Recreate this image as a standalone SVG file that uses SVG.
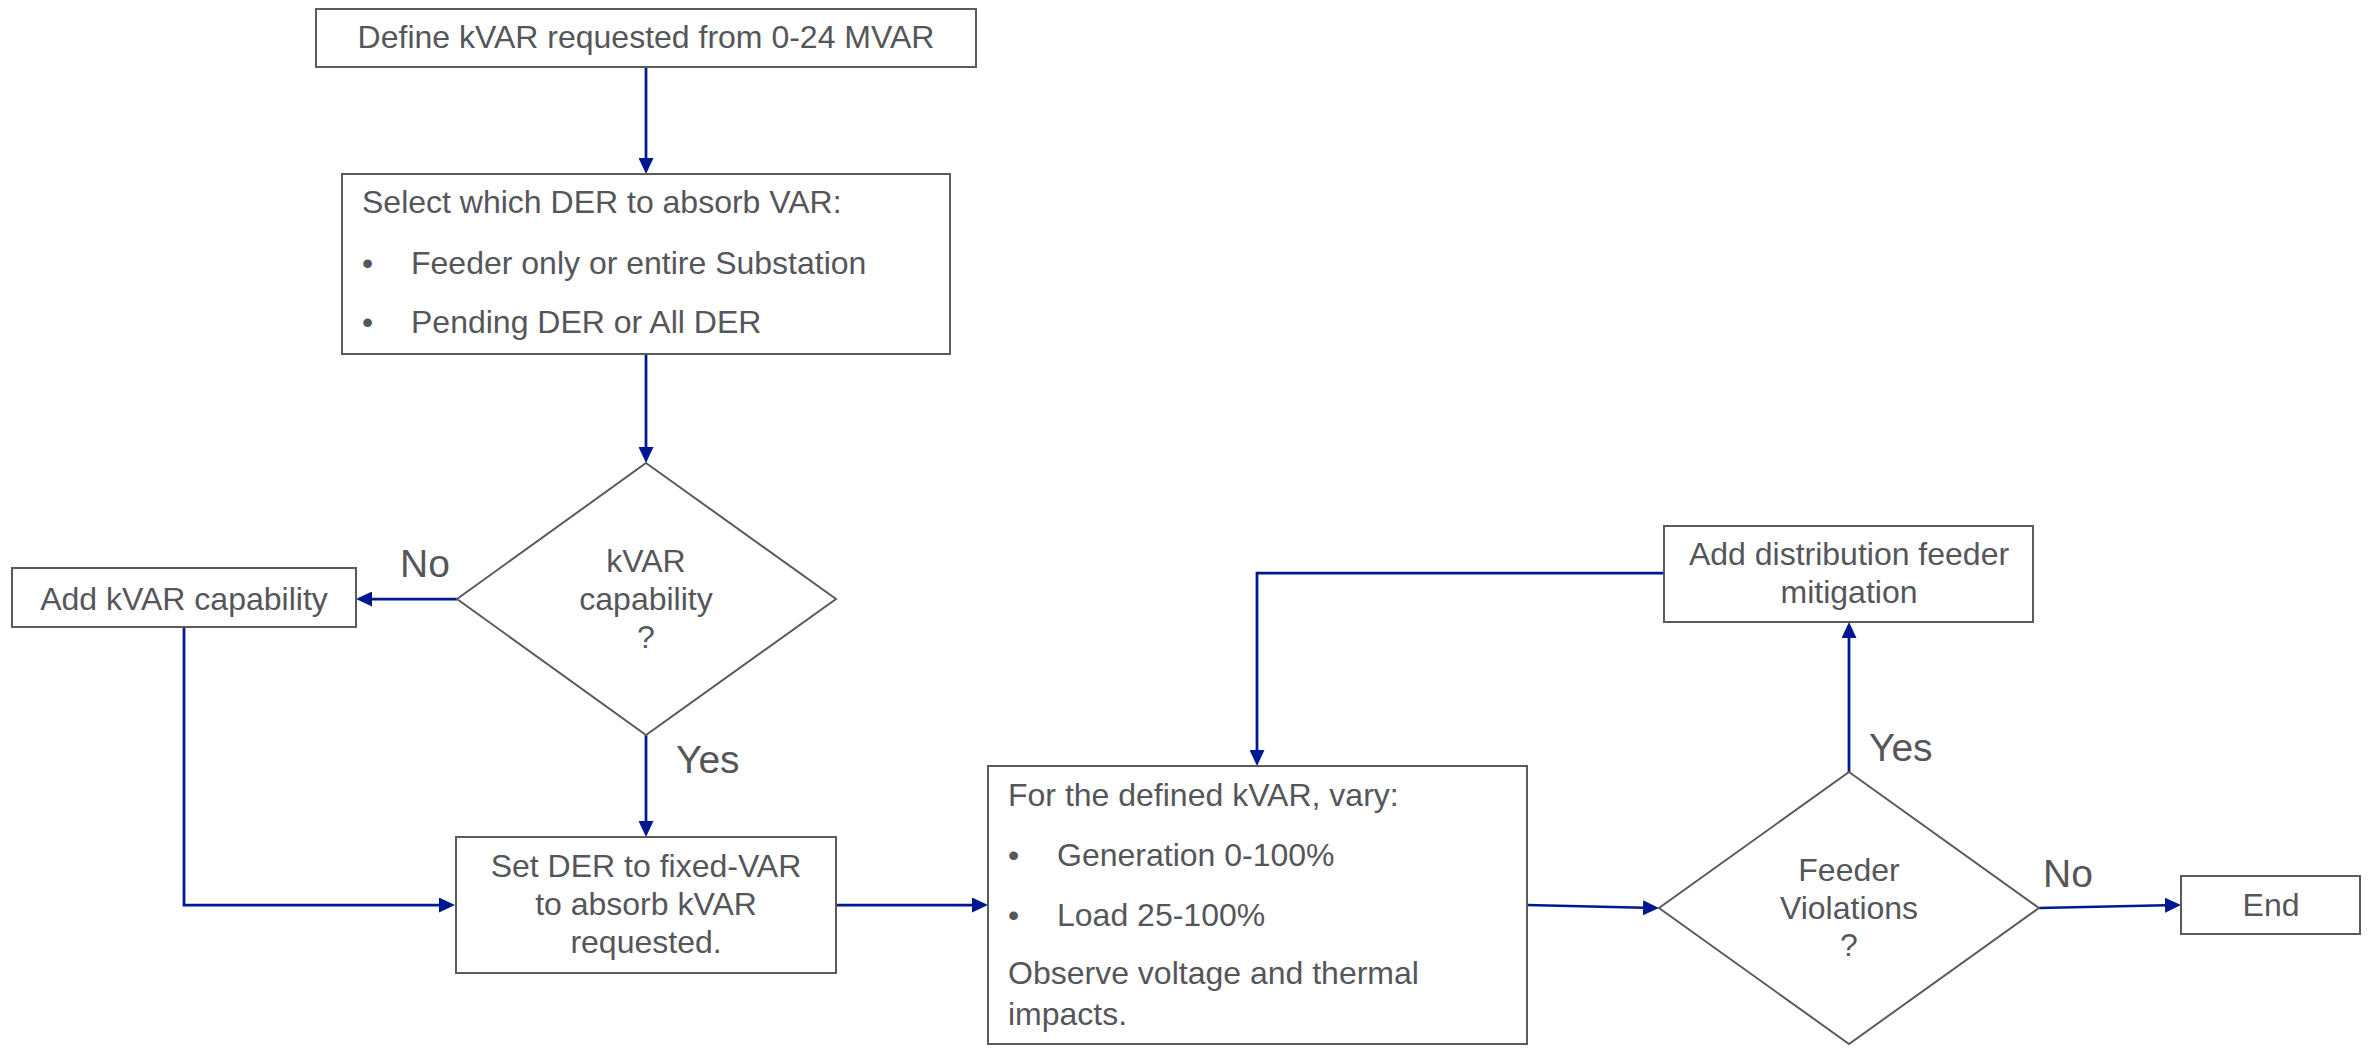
<svg xmlns="http://www.w3.org/2000/svg" width="2369" height="1048" viewBox="0 0 2369 1048">
  <style>
    .box { fill: #ffffff; stroke: #5b5b5d; stroke-width: 2; }
    .txt { font-family: "Liberation Sans", Arial, sans-serif; font-size: 32px; fill: #55565a; }
    .mid { text-anchor: middle; }
    .lbl { font-family: "Liberation Sans", Arial, sans-serif; font-size: 39px; fill: #55565a; }
    .conn { fill: none; stroke: #00188f; stroke-width: 2.75; }
  </style>
  <defs>
    <marker id="arrow" markerUnits="userSpaceOnUse" markerWidth="16" markerHeight="15" refX="12" refY="7.5" orient="auto">
      <path d="M0,0 L16,7.5 L0,15 Z" fill="#00188f"/>
    </marker>
  </defs>

  <rect width="2369" height="1048" fill="#ffffff"/>

  <!-- connectors -->
  <g id="connectors">
    <path class="conn" d="M646,67 V170" marker-end="url(#arrow)"/>
    <path class="conn" d="M646,354 V459" marker-end="url(#arrow)"/>
    <path class="conn" d="M457,599 H360" marker-end="url(#arrow)"/>
    <path class="conn" d="M646,735 V833" marker-end="url(#arrow)"/>
    <path class="conn" d="M184,627 V905 H451" marker-end="url(#arrow)"/>
    <path class="conn" d="M836,905 H984" marker-end="url(#arrow)"/>
    <path class="conn" d="M1527,905 L1655,908" marker-end="url(#arrow)"/>
    <path class="conn" d="M1849,772 V626" marker-end="url(#arrow)"/>
    <path class="conn" d="M1664,573 H1257 V762" marker-end="url(#arrow)"/>
    <path class="conn" d="M2039,908 L2177,905" marker-end="url(#arrow)"/>
    <text class="lbl" x="400" y="577">No</text>
    <text class="lbl" x="676" y="773">Yes</text>
    <text class="lbl" x="1869" y="761">Yes</text>
    <text class="lbl" x="2043" y="887">No</text>
  </g>

  <!-- start: requested reactive power -->
  <g id="define-kvar">
    <rect class="box" x="316" y="9" width="660" height="58"/>
    <text class="txt mid" x="646" y="48">Define kVAR requested from 0-24 MVAR</text>
  </g>

  <!-- DER selection -->
  <g id="select-der">
    <rect class="box" x="342" y="174" width="608" height="180"/>
    <text class="txt" x="362" y="213">Select which DER to absorb VAR:</text>
    <text class="txt" x="362" y="274">•</text>
    <text class="txt" x="411" y="274">Feeder only or entire Substation</text>
    <text class="txt" x="362" y="333">•</text>
    <text class="txt" x="411" y="333">Pending DER or All DER</text>
  </g>

  <!-- decision: capability available -->
  <g id="kvar-capability">
    <polygon class="box" points="646,463 836,599 646,735 457,599"/>
    <text class="txt mid" x="646" y="572">kVAR</text>
    <text class="txt mid" x="646" y="610">capability</text>
    <text class="txt mid" x="646" y="648">?</text>
  </g>

  <g id="add-kvar">
    <rect class="box" x="12" y="568" width="344" height="59"/>
    <text class="txt mid" x="184" y="610">Add kVAR capability</text>
  </g>

  <g id="set-fixed-var">
    <rect class="box" x="456" y="837" width="380" height="136"/>
    <text class="txt mid" x="646" y="877">Set DER to fixed-VAR</text>
    <text class="txt mid" x="646" y="915">to absorb kVAR</text>
    <text class="txt mid" x="646" y="953">requested.</text>
  </g>

  <g id="vary-study">
    <rect class="box" x="988" y="766" width="539" height="278"/>
    <text class="txt" x="1008" y="806">For the defined kVAR, vary:</text>
    <text class="txt" x="1008" y="866">•</text>
    <text class="txt" x="1057" y="866">Generation 0-100%</text>
    <text class="txt" x="1008" y="926">•</text>
    <text class="txt" x="1057" y="926">Load 25-100%</text>
    <text class="txt" x="1008" y="984">Observe voltage and thermal</text>
    <text class="txt" x="1008" y="1025">impacts.</text>
  </g>

  <!-- decision: violations found -->
  <g id="feeder-violations">
    <polygon class="box" points="1849,772 2039,908 1849,1044 1659,908"/>
    <text class="txt mid" x="1849" y="881">Feeder</text>
    <text class="txt mid" x="1849" y="919">Violations</text>
    <text class="txt mid" x="1849" y="956">?</text>
  </g>

  <g id="mitigation">
    <rect class="box" x="1664" y="526" width="369" height="96"/>
    <text class="txt mid" x="1849" y="565">Add distribution feeder</text>
    <text class="txt mid" x="1849" y="603">mitigation</text>
  </g>

  <g id="end">
    <rect class="box" x="2181" y="876" width="179" height="58"/>
    <text class="txt mid" x="2271" y="916">End</text>
  </g>
</svg>
